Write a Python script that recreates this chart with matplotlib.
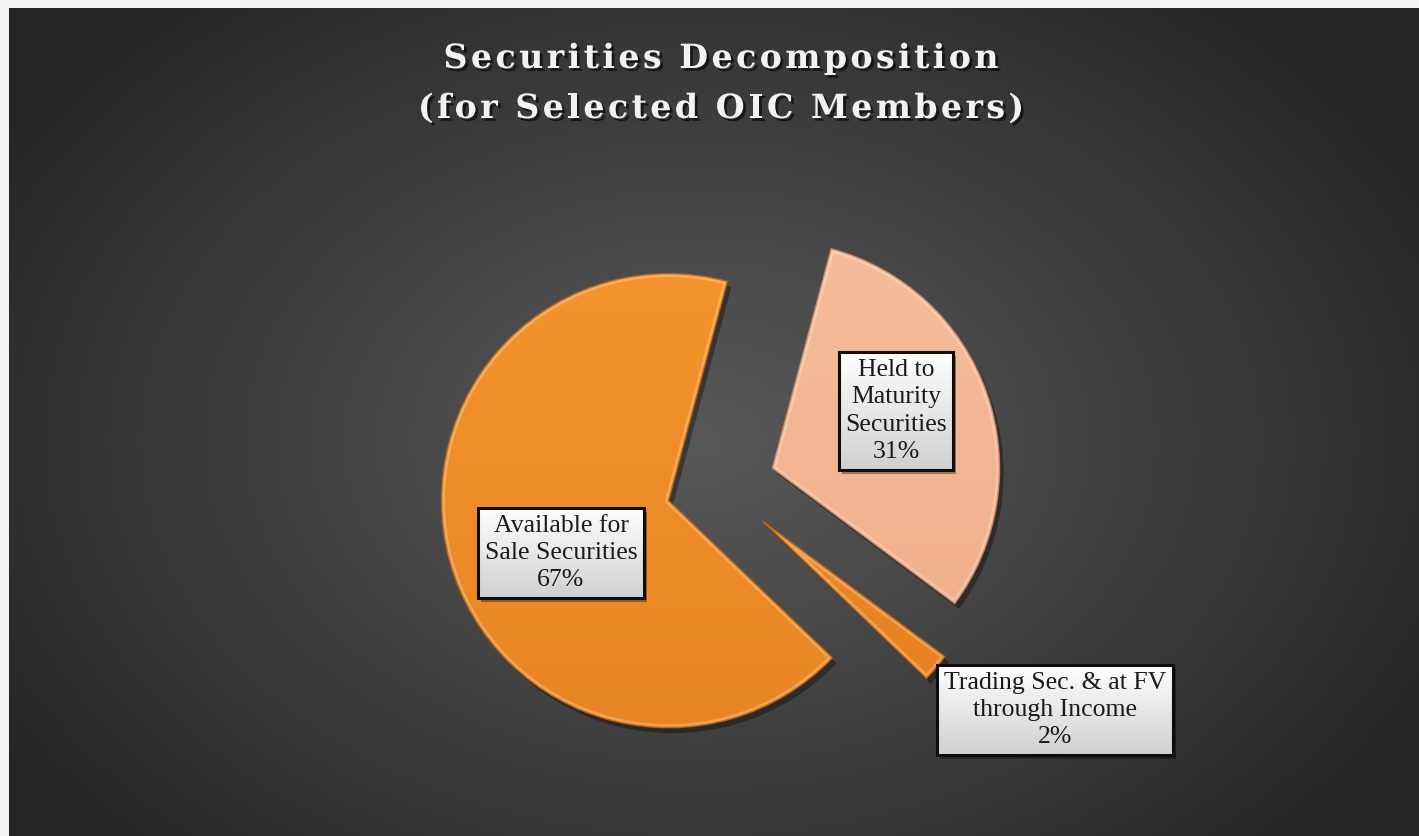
import numpy as np
import matplotlib
matplotlib.use('Agg')
import matplotlib.pyplot as plt
from matplotlib import patheffects as pe
from matplotlib.patches import Rectangle, PathPatch

W, H = 1419, 836

# slices in drawing order (clockwise, starting a little right of 12 o'clock)
labels = ['Held to\nMaturity\nSecurities', 'Trading Sec. & at FV\nthrough Income', 'Available for\nSale Securities']
shares = [31, 2, 67]
top_colors = ['#f8c4a4', '#f9982e', '#fb9c31']
bottom_colors = ['#eca47e', '#df791b', '#e27e1e']
edge_colors = ['#c98763', '#b5600f', '#b8620f']
label_xy = [(896, 411), (1055, 710), (561, 553)]

title_lines = ['Securities Decomposition', '(for Selected OIC Members)']

serif = ['Liberation Serif', 'DejaVu Serif']


def hex_rgb(h):
    return np.array([int(h[i:i + 2], 16) for i in (1, 3, 5)]) / 255.0


def vgrad(c_top, c_bot, n=256):
    t = np.linspace(0, 1, n)[:, None]
    col = (1 - t) * hex_rgb(c_top) + t * hex_rgb(c_bot)
    return col[:, None, :]


fig = plt.figure(figsize=(W / 100, H / 100), dpi=100, facecolor='#f2f2f2')
ax = fig.add_axes([0, 0, 1, 1])

# dark panel with a soft radial glow in the middle
yy, xx = np.mgrid[8:H, 9:W]
d = np.sqrt(((xx - 700) / 850.0) ** 2 + ((yy - 440) / 600.0) ** 2)
d = np.clip(d, 0, 1)
shade = (88 - 52 * d ** 1.1) / 255.0
bg = np.dstack([shade, shade, shade])
ax.imshow(bg, extent=(9, W, H, 8), origin='upper', zorder=0, interpolation='bilinear')

cx, cy, r = 721, 486, 227
wedges, _ = ax.pie(shares, radius=r, center=(cx, cy), startangle=-75, counterclock=True,
                   explode=[0.24 * r] * 3, colors=top_colors,
                   wedgeprops=dict(linewidth=0, zorder=2))

for w, ct, cb, ce in zip(wedges, top_colors, bottom_colors, edge_colors):
    w.set_path_effects([pe.SimplePatchShadow(offset=(3, -4), shadow_rgbFace='black', alpha=0.35),
                        pe.Normal()])
    im = ax.imshow(vgrad(ct, cb), extent=(cx - 2 * r, cx + 2 * r, cy + 2 * r, cy - 2 * r),
                   origin='upper', zorder=3, aspect='auto', interpolation='bilinear')
    im.set_clip_path(w)
    # bevelled rim: light inner band and a darker outline
    rim = PathPatch(w.get_path(), transform=w.get_transform(), fc='none', ec='white',
                    lw=5, alpha=0.25, zorder=4)
    ax.add_patch(rim)
    rim.set_clip_path(w)
    ax.add_patch(PathPatch(w.get_path(), transform=w.get_transform(), fc='none', ec=ce,
                           lw=1.2, alpha=0.8, zorder=4))

ax.set_xlim(0, W)
ax.set_ylim(H, 0)
ax.set_aspect('auto')
ax.axis('off')

texts = []
for lab, s, (tx, ty) in zip(labels, shares, label_xy):
    t = ax.text(tx, ty, f'{lab}\n{s}%', ha='center', va='center', fontsize=18.5,
                family=serif, color='#1a1a1a', linespacing=1.32, zorder=8,
                bbox=dict(boxstyle='square,pad=0.26', fc='none', ec='#0d0d0d', lw=2.2))
    texts.append(t)

fig.canvas.draw()
renderer = fig.canvas.get_renderer()
inv = ax.transData.inverted()
for t in texts:
    bb = t.get_bbox_patch().get_window_extent(renderer)
    (x0, y0), (x1, y1) = inv.transform([[bb.x0, bb.y0], [bb.x1, bb.y1]])
    ax.add_patch(Rectangle((x0 + 3, y1 + 4), x1 - x0, y0 - y1, fc='black', alpha=0.35,
                           lw=0, zorder=6))
    ax.imshow(vgrad('#ffffff', '#cfd0d2'), extent=(x0, x1, y0, y1), origin='upper',
              zorder=7, aspect='auto', interpolation='bilinear')

# title: letters placed one by one to get the wide tracking
title_font = dict(fontsize=24, fontweight='bold', family=['DejaVu Serif'])
shadow = [pe.withSimplePatchShadow(offset=(2, -2), shadow_rgbFace='black', alpha=0.6)]
for line, base in zip(title_lines, [68, 118]):
    widths = []
    for ch in line:
        probe = ax.text(0, 0, ch if ch != ' ' else 'n', **title_font)
        ext = probe.get_window_extent(renderer)
        widths.append(ext.width * (0.45 if ch == ' ' else 1.0))
        probe.remove()
    track = 3.3
    total = sum(widths) + track * (len(line) - 1)
    x = 721 - total / 2
    for ch, wd in zip(line, widths):
        if ch != ' ':
            ax.text(x, base, ch, ha='left', va='baseline', color='#f2f2f2', zorder=9,
                    path_effects=shadow, **title_font)
        x += wd + track

ax.set_xlim(0, W)
ax.set_ylim(H, 0)

fig.savefig('out.png', dpi=100, facecolor=fig.get_facecolor())
